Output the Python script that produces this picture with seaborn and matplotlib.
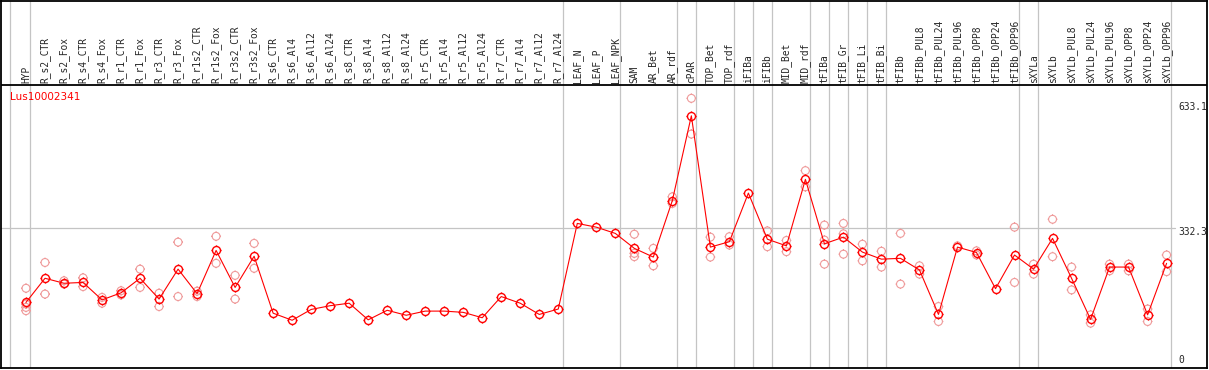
import numpy as np
import pandas as pd
import matplotlib
matplotlib.use("Agg")
import matplotlib.pyplot as plt
from matplotlib.path import Path
import seaborn as sns

gene = "Lus10002341"

samples = [
    "HYP",
    "R_s2_CTR", "R_s2_Fox", "R_s4_CTR", "R_s4_Fox", "R_r1_CTR", "R_r1_Fox",
    "R_r3_CTR", "R_r3_Fox", "R_r1s2_CTR", "R_r1s2_Fox", "R_r3s2_CTR", "R_r3s2_Fox",
    "R_s6_CTR", "R_s6_Al4", "R_s6_Al12", "R_s6_Al24", "R_s8_CTR", "R_s8_Al4",
    "R_s8_Al12", "R_s8_Al24", "R_r5_CTR", "R_r5_Al4", "R_r5_Al12", "R_r5_Al24",
    "R_r7_CTR", "R_r7_Al4", "R_r7_Al12", "R_r7_Al24",
    "LEAF_N", "LEAF_P", "LEAF_NPK",
    "SAM", "AR_Bet", "AR_rdf",
    "cPAR",
    "TOP_Bet", "TOP_rdf",
    "iFIBa", "iFIBb",
    "MID_Bet", "MID_rdf",
    "tFIBa", "tFIB_Gr", "tFIB_Li", "tFIB_Bi",
    "tFIBb", "tFIBb_PUL8", "tFIBb_PUL24", "tFIBb_PUL96", "tFIBb_OPP8",
    "tFIBb_OPP24", "tFIBb_OPP96",
    "sXYLa",
    "sXYLb", "sXYLb_PUL8", "sXYLb_PUL24", "sXYLb_PUL96", "sXYLb_OPP8",
    "sXYLb_OPP24", "sXYLb_OPP96",
]

# number of samples in each block between the grey separators
group_sizes = [1, 28, 3, 3, 1, 2, 1, 1, 2, 1, 1, 1, 1, 7, 1, 7]

means = [
    154, 212, 200, 202, 160, 177, 212, 162, 234, 175, 279, 190, 265,
    128, 111, 137, 146, 152, 112, 135, 123, 133, 133, 130, 117, 168, 152, 125, 138,
    344, 335, 320,
    284, 263, 399,
    603,
    287, 300,
    417, 306,
    290, 450,
    295, 311, 275, 258,
    260, 232, 125, 287, 274, 187, 268,
    234,
    308, 212, 113, 239, 239, 124, 248,
]

replicates = [
    [188, 150, 142, 134], [250, 174], [206, 198], [213, 192], [166, 152],
    [182, 172], [234, 190], [176, 144], [299, 168], [181, 168], [313, 248],
    [219, 162], [296, 236],
    [], [], [], [], [], [], [], [], [], [], [], [], [], [], [], [],
    [], [], [],
    [318, 272, 264], [284, 242], [408, 392],
    [645, 559],
    [311, 263], [312, 292],
    [], [326, 288],
    [303, 276], [471, 432],
    [340, 304, 246], [344, 319, 270], [294, 254], [277, 239],
    [320, 198], [242, 222], [144, 108], [290], [278, 268], [], [335, 202],
    [246, 222],
    [354, 264], [239, 184], [124, 104], [246, 230], [246, 230], [138, 108], [268, 228],
]

scale_labels = [633.1, 332.3, 0]

pos = np.arange(len(samples))
mean_df = pd.DataFrame({"pos": pos, "value": means})
rep_df = pd.DataFrame(
    [(i, v) for i, vals in enumerate(replicates) for v in vals],
    columns=["pos", "value"],
)

sns.set_style("white")
plt.rcParams["font.family"] = ["DejaVu Sans"]

# circle with four small ticks, like the original marker
ticks = Path(
    [(0, 1), (0, 1.25), (0, -1), (0, -1.25), (1, 0), (1.25, 0), (-1, 0), (-1.25, 0)],
    [Path.MOVETO, Path.LINETO] * 4,
)
ring = Path.make_compound_path(Path.unit_circle(), ticks)

fig = plt.figure(figsize=(12.09, 3.70), dpi=100)
ax = fig.add_axes([1 / 1209, 2 / 370, 1206 / 1209, 367 / 370])

grey = "#c4c4c4"
pink = "#ef9a9a"

# block separators
bounds = np.cumsum(group_sizes) - 1 + 0.235
ax.axvline(-0.84, color=grey, lw=0.9, zorder=0)
for b in bounds:
    ax.axvline(b, color=grey, lw=0.9, zorder=0)
ax.axhline(332.3, xmax=0.9735, color=grey, lw=0.9, zorder=0)
ax.axhline(677.1, color="black", lw=1.3, zorder=1)

sns.scatterplot(data=rep_df, x="pos", y="value", marker=ring, s=50,
                color=pink, facecolors="none", edgecolor=pink,
                linewidth=0.8, zorder=2, ax=ax)
sns.lineplot(data=mean_df, x="pos", y="value", color="red", linewidth=0.8,
             marker=ring, markersize=7.2, markerfacecolor="none",
             markeredgecolor="red", markeredgewidth=1.0, zorder=3, ax=ax)

for i, name in enumerate(samples):
    ax.text(i, 681.5, name, rotation=90, ha="center", va="bottom",
            fontsize=6.9, family="DejaVu Sans Mono")

ax.text(-0.84, 648, gene, color="red", fontsize=7.5, va="center", ha="left")

for v in scale_labels:
    if v == 0:
        ax.text(60.6, 4, "0", fontsize=6.9, va="bottom", ha="left",
                family="DejaVu Sans Mono")
    else:
        ax.text(60.6, v + 2, f"{v}", fontsize=6.9, va="top", ha="left",
                family="DejaVu Sans Mono")

ax.set_xlim(-1.315, 62.125)
ax.set_ylim(-3.9, 879.2)
ax.set_xticks([])
ax.set_yticks([])
ax.set_xlabel("")
ax.set_ylabel("")
for s in ax.spines.values():
    s.set_color("black")
    s.set_linewidth(1.3)

fig.savefig("out.png", dpi=100)
